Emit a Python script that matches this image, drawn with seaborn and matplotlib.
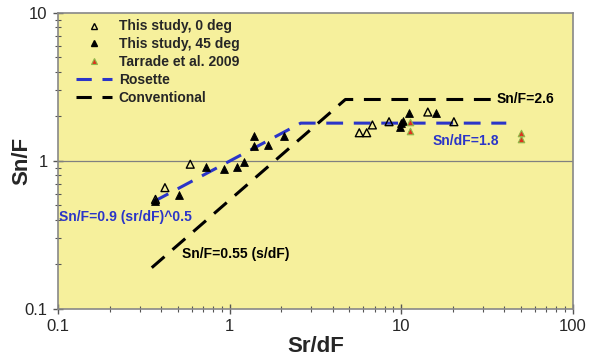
import matplotlib
matplotlib.use("Agg")
import matplotlib.pyplot as plt
import seaborn as sns
import pandas as pd
from matplotlib.lines import Line2D
from matplotlib.ticker import LogLocator, NullFormatter, FixedLocator, FixedFormatter

# Data
study0_x = [0.37, 0.42, 0.59, 5.7, 6.3, 6.8, 8.5, 14.3, 20.3]
study0_y = [0.55, 0.66, 0.95, 1.55, 1.55, 1.75, 1.84, 2.14, 1.84]
study45_x = [0.37, 0.51, 0.73, 0.93, 1.10, 1.21, 1.39, 1.39, 1.67, 2.07, 9.8, 10.0, 10.3, 11.1, 15.9]
study45_y = [0.54, 0.59, 0.91, 0.88, 0.91, 0.98, 1.47, 1.26, 1.28, 1.47, 1.70, 1.80, 1.86, 2.10, 2.10]
tarrade_x = [11.3, 11.3, 50.0, 50.0]
tarrade_y = [1.83, 1.60, 1.55, 1.41]
rosette_x = [0.36, 2.6, 41.0]
rosette_y = [0.53, 1.8, 1.8]
conv_x = [0.352, 4.73, 34.0]
conv_y = [0.19, 2.6, 2.6]

x_ticks = [0.1, 1, 10, 100]
x_ticklabels = ["0.1", "1", "10", "100"]
y_ticks = [0.1, 1, 10]
y_ticklabels = ["0.1", "1", "10"]

sns.set_style("ticks")
plt.rcParams['font.family'] = ['Liberation Sans', 'DejaVu Sans']

fig = plt.figure(figsize=(5.93, 3.58), dpi=100)
ax = fig.add_axes([0.0978, 0.137, 0.868, 0.827])
ax.set_facecolor("#F6F09C")
ax.set_xscale("log")
ax.set_yscale("log")

ax.axhline(1, color="#808080", lw=0.9, zorder=1)

ros = pd.DataFrame({"x": rosette_x, "y": rosette_y})
con = pd.DataFrame({"x": conv_x, "y": conv_y})
sns.lineplot(data=ros, x="x", y="y", ax=ax, color="#2B35C8", lw=2.2, sort=False,
             estimator=None, zorder=2)
ax.lines[-1].set_dashes([5.5, 3.5])
sns.lineplot(data=con, x="x", y="y", ax=ax, color="black", lw=2.2, sort=False,
             estimator=None, zorder=2)
ax.lines[-1].set_dashes([5.5, 3.5])

d0 = pd.DataFrame({"x": study0_x, "y": study0_y})
d45 = pd.DataFrame({"x": study45_x, "y": study45_y})
dt = pd.DataFrame({"x": tarrade_x, "y": tarrade_y})
sns.scatterplot(data=d0, x="x", y="y", ax=ax, marker="^", s=32, facecolor="none",
                edgecolor="black", linewidth=1.0, zorder=3)
sns.scatterplot(data=d45, x="x", y="y", ax=ax, marker="^", s=32, color="black",
                edgecolor="black", linewidth=0.6, zorder=3)
sns.scatterplot(data=dt, x="x", y="y", ax=ax, marker="^", s=22, color="#E0301E",
                edgecolor="#8FB84A", linewidth=0.8, zorder=3)

ax.set_xlim(0.1, 100)
ax.set_ylim(0.1, 10)

ax.xaxis.set_major_locator(FixedLocator(x_ticks))
ax.xaxis.set_major_formatter(FixedFormatter(x_ticklabels))
ax.yaxis.set_major_locator(FixedLocator(y_ticks))
ax.yaxis.set_major_formatter(FixedFormatter(y_ticklabels))
ax.xaxis.set_minor_locator(LogLocator(base=10, subs=range(2, 10)))
ax.yaxis.set_minor_locator(LogLocator(base=10, subs=range(2, 10)))
ax.xaxis.set_minor_formatter(NullFormatter())
ax.yaxis.set_minor_formatter(NullFormatter())
ax.tick_params(which="major", direction="inout", length=7, width=1, color="#555555",
               labelsize=12, pad=4)
ax.tick_params(which="minor", direction="inout", length=5, width=0.8, color="#555555")
for s in ax.spines.values():
    s.set_color("#888888")
    s.set_linewidth(1.2)

ax.set_xlabel("Sr/dF", fontsize=16, fontweight="bold", labelpad=1)
ax.set_ylabel("Sn/F", fontsize=16, fontweight="bold", va="center")
ax.yaxis.set_label_coords(-0.071, 0.5)

ax.text(36, 2.6, "Sn/F=2.6", fontsize=10, fontweight="bold", color="black",
        va="center", ha="left")
ax.text(15.3, 1.37, "Sn/dF=1.8", fontsize=10, fontweight="bold", color="#2B35C8",
        va="center", ha="left")
ax.text(0.102, 0.42, "Sn/F=0.9 (sr/dF)^0.5", fontsize=10, fontweight="bold",
        color="#2B35C8", va="center", ha="left")
ax.text(0.527, 0.235, "Sn/F=0.55 (s/dF)", fontsize=10, fontweight="bold",
        color="black", va="center", ha="left")

handles = [
    Line2D([], [], ls="none", marker="^", markersize=5, markerfacecolor="none",
           markeredgecolor="black", markeredgewidth=1.0),
    Line2D([], [], ls="none", marker="^", markersize=5, color="black"),
    Line2D([], [], ls="none", marker="^", markersize=4, markerfacecolor="#E0301E",
           markeredgecolor="#8FB84A", markeredgewidth=0.8),
    Line2D([], [], color="#2B35C8", lw=2.2, dashes=[5, 3.5]),
    Line2D([], [], color="black", lw=2.2, dashes=[5, 3.5]),
]
labels = ["This study, 0 deg", "This study, 45 deg", "Tarrade et al. 2009",
          "Rosette", "Conventional"]
ax.legend(handles, labels, loc="upper left", bbox_to_anchor=(0.01, 1.02),
          frameon=False, prop={"size": 10, "weight": "bold"}, handlelength=2.6,
          labelspacing=0.28, handletextpad=0.5)

fig.savefig("out.png", dpi=100)
